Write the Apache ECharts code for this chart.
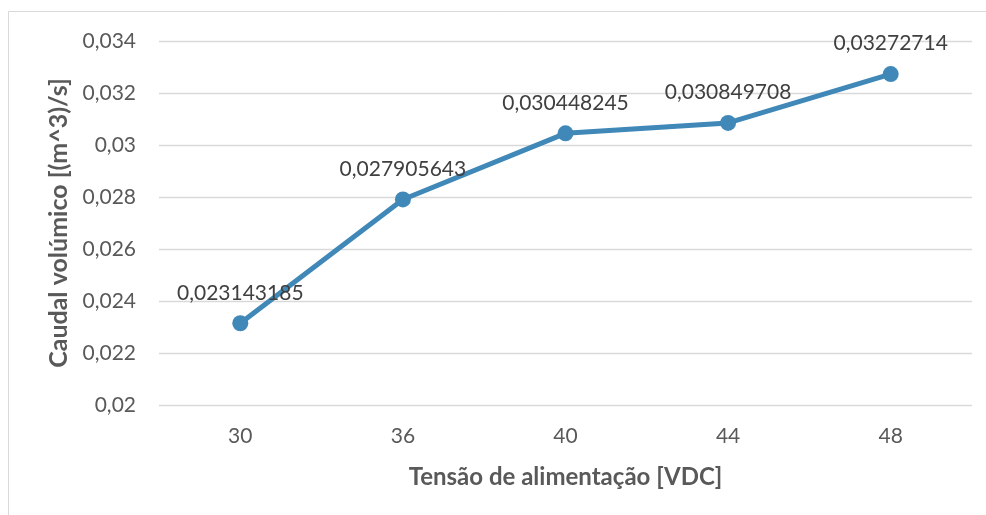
<!DOCTYPE html>
<html><head><meta charset="utf-8">
<script src="https://cdn.jsdelivr.net/npm/echarts@6/dist/echarts.min.js"></script>
<style>html,body{margin:0;padding:0;background:#fff}#c{width:986px;height:515px}</style>
</head><body><div id="c"></div>
<script>
const categories = ['30', '36', '40', '44', '48'];
const flowValues = [0.023143185, 0.027905643, 0.030448245, 0.030849708, 0.03272714];
const yTicks = [0.02, 0.022, 0.024, 0.026, 0.028, 0.03, 0.032, 0.034];
const xTitle = 'Tensão de alimentação [VDC]';
const yTitle = 'Caudal volúmico [(m^3)/s]';

const FONT = 'Lato';
const chart = echarts.init(document.getElementById('c'), null, {renderer: 'canvas'});
const fmt = v => String(v).replace('.', ',');
chart.setOption({
  animation: false,
  backgroundColor: '#fff',
  graphic: [{type: 'rect', shape: {x: 8.5, y: 11.5, width: 1000, height: 600}, style: {fill: 'none', stroke: '#d9d9d9', lineWidth: 1}, silent: true}],
  grid: {left: 159, right: 14, top: 41, bottom: 110},
  xAxis: {
    type: 'category', data: categories, boundaryGap: true,
    axisLine: {show: false}, axisTick: {show: false},
    axisLabel: {color: '#595959', fontFamily: FONT, fontSize: 21, margin: 21},
    name: xTitle, nameLocation: 'middle', nameGap: 60,
    nameTextStyle: {color: '#595959', fontFamily: FONT, fontSize: 24, fontWeight: 'bold'}
  },
  yAxis: {
    type: 'value', min: yTicks[0], max: yTicks[yTicks.length - 1], interval: 0.002,
    axisLine: {show: false}, axisTick: {show: false},
    splitLine: {lineStyle: {color: '#d9d9d9', width: 1.3}},
    axisLabel: {color: '#595959', fontFamily: FONT, fontSize: 21, margin: 23, formatter: v => fmt(+v.toFixed(3))},
    name: yTitle, nameLocation: 'middle', nameGap: 87, nameRotate: 90,
    nameTextStyle: {color: '#595959', fontFamily: FONT, fontSize: 25, fontWeight: 'bold'}
  },
  series: [{
    type: 'line', data: flowValues,
    lineStyle: {color: '#3f88b8', width: 5},
    itemStyle: {color: '#3f88b8'},
    symbol: 'circle', symbolSize: 16, showAllSymbol: true,
    label: {show: true, position: 'top', distance: 12, color: '#404040', fontFamily: FONT, fontSize: 21, formatter: p => fmt(p.value)}
  }]
});
</script></body></html>
